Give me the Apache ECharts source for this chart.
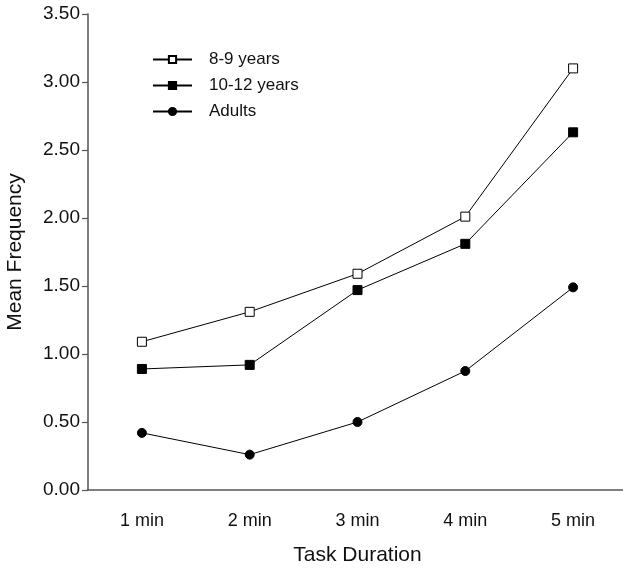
<!DOCTYPE html>
<html>
<head>
<meta charset="utf-8">
<script src="https://cdn.jsdelivr.net/npm/echarts@6/dist/echarts.min.js"></script>
<style>
  html, body { margin: 0; padding: 0; background: #fff; }
  #chart { width: 623px; height: 569px; }
</style>
</head>
<body>
<div id="chart"></div>
<script>
const categories = ['1 min', '2 min', '3 min', '4 min', '5 min']
const kids89 = [1.09, 1.31, 1.59, 2.01, 3.10]
const kids1012 = [0.89, 0.92, 1.47, 1.81, 2.63]
const adults = [0.42, 0.26, 0.50, 0.875, 1.49]

const font = 'Liberation Sans, Arial, Helvetica, sans-serif'
const axisColor = '#555'

const chart = echarts.init(document.getElementById('chart'))

const mkSeries = (name, data, symbol, fill) => ({
    name: name,
    type: 'line',
    data: data,
    symbol: symbol,
    symbolSize: 9,
    lineStyle: { color: '#000', width: 1 },
    itemStyle: { color: fill, borderColor: '#000', borderWidth: 1 },
    emphasis: { disabled: true },
    animation: false
})

chart.setOption({
    backgroundColor: '#fff',
    grid: { left: 88, right: -4, top: 14, bottom: 79, outerBoundsMode: 'none', containLabel: false },
    legend: {
        orient: 'vertical',
        left: 147,
        top: 46,
        itemWidth: 39,
        itemHeight: 9,
        itemGap: 9,
        textStyle: { fontFamily: font, fontSize: 17, color: '#111', padding: [0, 0, 0, 12] },
        data: ['8-9 years', '10-12 years', 'Adults']
    },
    xAxis: {
        type: 'category',
        data: categories,
        boundaryGap: true,
        name: 'Task Duration',
        nameLocation: 'middle',
        nameGap: 55,
        nameTextStyle: { fontFamily: font, fontSize: 21, color: '#111' },
        axisLine: { lineStyle: { color: axisColor, width: 1.5 } },
        axisTick: { length: 6, lineStyle: { color: axisColor, width: 1.2 } },
        axisLabel: { fontFamily: font, fontSize: 18, color: '#111', margin: 22 },
        splitLine: { show: false }
    },
    yAxis: {
        type: 'value',
        min: 0,
        max: 3.5,
        interval: 0.5,
        name: 'Mean Frequency',
        nameLocation: 'middle',
        nameGap: 62,
        nameTextStyle: { fontFamily: font, fontSize: 21, color: '#111' },
        axisLine: { show: true, lineStyle: { color: axisColor, width: 1.5 } },
        axisTick: { show: true, length: 6, lineStyle: { color: axisColor, width: 1.2 } },
        axisLabel: {
            fontFamily: font, fontSize: 19, color: '#111', margin: 8,
            formatter: v => v.toFixed(2)
        },
        splitLine: { show: false }
    },
    series: [
        mkSeries('8-9 years', kids89, 'rect', '#fff'),
        mkSeries('10-12 years', kids1012, 'rect', '#000'),
        mkSeries('Adults', adults, 'circle', '#000')
    ]
})
</script>
</body>
</html>
